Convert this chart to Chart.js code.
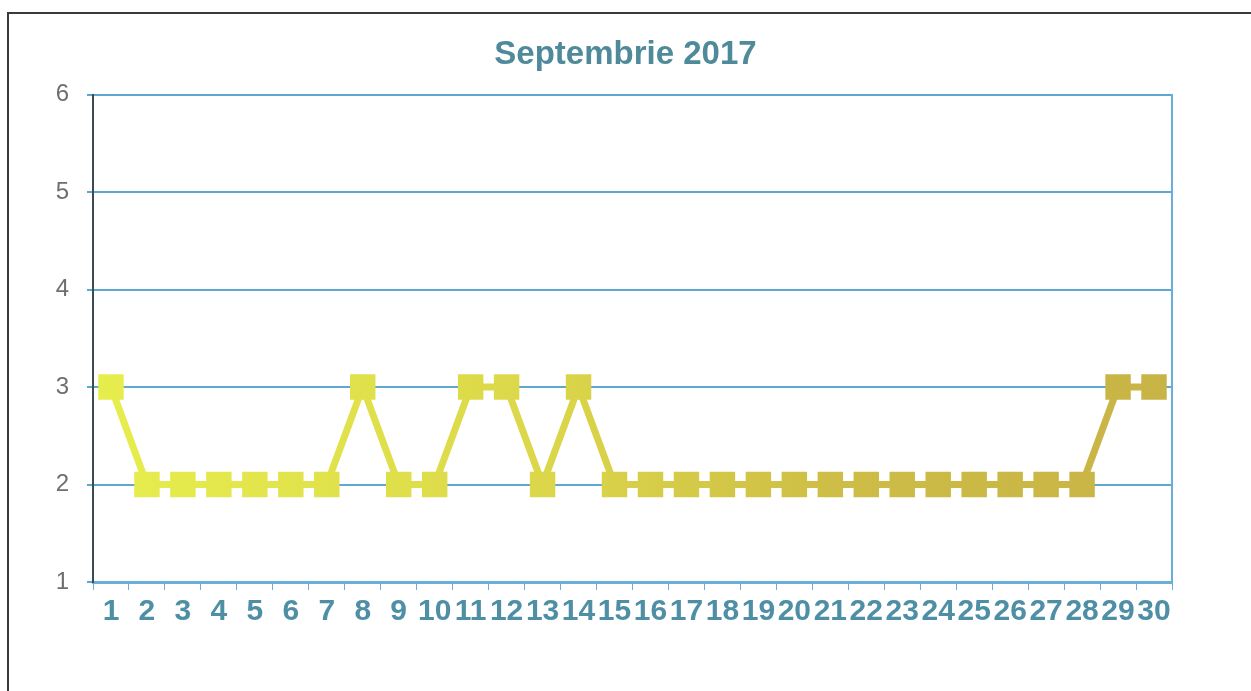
<!DOCTYPE html>
<html>
<head>
<meta charset="utf-8">
<script src="https://cdn.jsdelivr.net/npm/chart.js@4.4.1/dist/chart.umd.min.js"></script>
<style>
    html, body { margin: 0; padding: 0; background: #fff; }
    #wrap { position: relative; width: 1251px; height: 691px; overflow: hidden; }
    #frame { position: absolute; left: 7px; top: 12px; width: 1300px; height: 700px;
             border-top: 2px solid #3a3a3a; border-left: 2px solid #3a3a3a; }
    canvas { position: absolute; left: 0; top: 0; }
</style>
</head>
<body>
<div id="wrap">
    <div id="frame"></div>
    <canvas id="chart" width="1251" height="691"></canvas>
</div>
<script>
const days = ['1','2','3','4','5','6','7','8','9','10','11','12','13','14','15',
              '16','17','18','19','20','21','22','23','24','25','26','27','28','29','30'];
const values = [3,2,2,2,2,2,2,3,2,2,3,3,2,3,2,2,2,2,2,2,2,2,2,2,2,2,2,2,3,3];
const yTicks = [1,2,3,4,5,6];

// degrade galben-verzui -> kaki, ca in scanare
function lineGradient(context) {
    const chart = context.chart;
    const area = chart.chartArea;
    if (!area) return '#dcdc48';
    const g = chart.ctx.createLinearGradient(area.left, 0, area.right, 0);
    g.addColorStop(0, '#e6ee4c');
    g.addColorStop(0.4, '#dcd84a');
    g.addColorStop(0.7, '#cdbc46');
    g.addColorStop(1, '#c8b446');
    return g;
}

new Chart(document.getElementById('chart'), {
    type: 'line',
    data: {
        labels: days,
        datasets: [{
            data: values,
            borderColor: lineGradient,
            backgroundColor: lineGradient,
            pointBackgroundColor: lineGradient,
            pointBorderColor: lineGradient,
            borderWidth: 7,
            pointStyle: 'rect',
            pointRadius: 18,
            pointBorderWidth: 0,
            tension: 0,
            fill: false
        }]
    },
    options: {
        responsive: false,
        animation: false,
        layout: { padding: { left: 0, right: 0, top: 0, bottom: 40 } },
        plugins: {
            legend: { display: false },
            tooltip: { enabled: false },
            title: {
                display: true,
                text: 'Septembrie 2017',
                color: '#4f8a9a',
                font: { family: 'Liberation Sans, Arial, sans-serif', size: 33, weight: 'bold' },
                padding: { top: 35, bottom: 20 }
            }
        },
        scales: {
            x: {
                offset: true,
                grid: {
                    offset: true,
                    drawOnChartArea: false,
                    drawTicks: true,
                    tickLength: 8,
                    color: '#6aaedb',
                    lineWidth: 1
                },
                border: { color: '#6aaedb', width: 3 },
                ticks: {
                    color: '#4f8fa6',
                    font: { family: 'Liberation Sans, Arial, sans-serif', size: 30, weight: 'bold' },
                    autoSkip: false,
                    maxRotation: 0,
                    minRotation: 0,
                    padding: 4
                },
                afterFit(scale) { scale.height = 69; }
            },
            y: {
                min: 1,
                max: 6,
                afterBuildTicks(scale) { scale.ticks = yTicks.map(v => ({ value: v })); },
                grid: {
                    color: '#5fa6d2',
                    lineWidth: 2,
                    drawTicks: true,
                    tickLength: 6
                },
                border: { color: '#3c4a55', width: 2 },
                ticks: {
                    color: '#6e6e6e',
                    font: { family: 'Liberation Sans, Arial, sans-serif', size: 24 },
                    padding: 18
                },
                afterFit(scale) { scale.width = 93; }
            },
            // axa dreapta doar pentru marginea albastra a zonei de desen
            yRight: {
                position: 'right',
                min: 1,
                max: 6,
                grid: { drawOnChartArea: false, drawTicks: false },
                border: { color: '#6aaedb', width: 2 },
                ticks: { display: false },
                afterFit(scale) { scale.width = 79; }
            }
        }
    }
});
</script>
</body>
</html>
